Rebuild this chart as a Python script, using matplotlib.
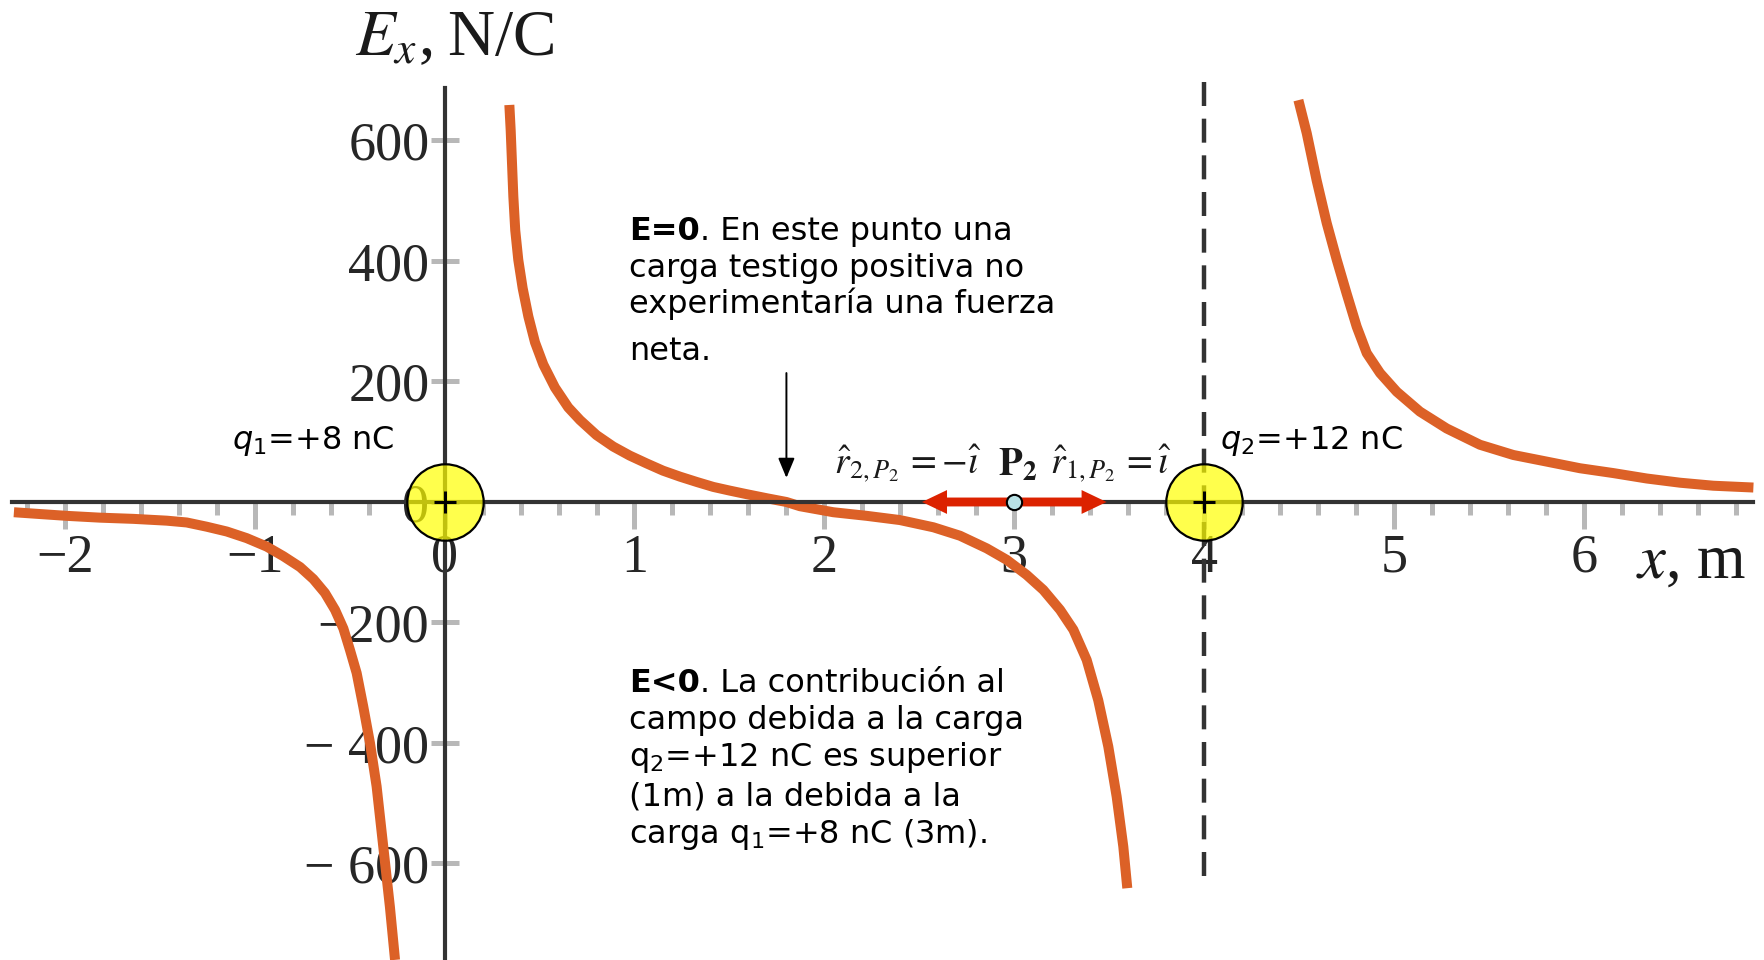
import matplotlib
matplotlib.use("Agg")
import matplotlib.pyplot as plt
from matplotlib.ticker import MultipleLocator
from matplotlib.patches import FancyArrowPatch

plt.rcParams["font.family"] = ["Liberation Serif", "DejaVu Serif"]

# Campo eléctrico E_x (N/C) de q1 = +8 nC en x=0 y q2 = +12 nC en x=4 m
# rama x < 0
x_izq = [-2.268, -2.131, -1.990, -1.815, -1.639, -1.463, -1.358, -1.253, -1.147,
         -1.042, -0.937, -0.849, -0.761, -0.691, -0.630, -0.577, -0.533, -0.498,
         -0.463, -0.428, -0.393, -0.358, -0.323, -0.288, -0.261]
e_izq = [-17, -20, -23, -26, -28, -31, -34, -41, -49, -60, -74, -90, -108, -128,
         -151, -179, -210, -246, -284, -340, -400, -472, -572, -672, -760]

# rama 0 < x < 4
x_med = [0.341, 0.348, 0.355, 0.362, 0.372, 0.388, 0.411, 0.441, 0.476, 0.520,
         0.581, 0.651, 0.713, 0.800, 0.888, 0.975, 1.064, 1.150, 1.240, 1.330,
         1.415, 1.500, 1.590, 1.700, 1.800, 1.871, 2.047, 2.223, 2.398, 2.574,
         2.714, 2.855, 2.960, 3.065, 3.153, 3.241, 3.311, 3.381, 3.442, 3.495,
         3.539, 3.574, 3.595]
e_med = [659, 617, 562, 507, 451, 402, 355, 308, 265, 228, 190, 157, 136, 111,
         92, 77, 64, 52, 42, 33, 25, 19, 13, 6, 0, -7, -17, -23, -30, -42, -56,
         -77, -96, -121, -146, -179, -212, -262, -329, -406, -489, -572, -641]

# rama x > 4
x_der = [4.496, 4.540, 4.592, 4.645, 4.698, 4.750, 4.803, 4.856, 4.926, 5.014,
         5.136, 5.277, 5.452, 5.628, 5.804, 5.979, 6.154, 6.330, 6.506, 6.681,
         6.892]
e_der = [667, 612, 534, 463, 402, 346, 291, 247, 214, 183, 150, 122, 95, 78, 67,
         56, 48, 39, 32, 27, 24]

# cargas y punto P2
cargas_x = [0, 4]
cargas_txt = [r"$q_{\mathit{1}}$=+8 nC", r"$q_{\mathit{2}}$=+12 nC"]
p2_x = 3.0
vec_largo = 0.5
x_cero = 1.80

x_ticks = [-2, -1, 0, 1, 2, 3, 4, 5, 6]
x_tick_labels = ["\u22122", "\u22121", "0", "1", "2", "3", "4", "5", "6"]
y_ticks = [-600, -400, -200, 0, 200, 400, 600]
y_tick_labels = ["\u2212 600", "\u2212 400", "\u2212200", "0", "200", "400", "600"]

# (parte en negrita, resto de la línea)
texto_e0 = [("E=0", ". En este punto una"),
            ("", "carga testigo positiva no"),
            ("", "experimentaría una fuerza"),
            ("", "neta.")]
texto_eneg = [("E<0", ". La contribución al"),
              ("", "campo debida a la carga"),
              ("", r"$\mathrm{q_2}$=+12 nC es superior"),
              ("", "(1m) a la debida a la"),
              ("", r"carga $\mathrm{q_1}$=+8 nC (3m).")]

NARANJA = "#dc6127"
EJE = "#333333"
GRIS = "#b8b8b8"
ROJO = "#dc2200"

fig = plt.figure(figsize=(17.65, 9.6), dpi=100)
ax = fig.add_axes([0, 0, 1, 1])
ax.set_xlim(-2.3412, 6.9531)
ax.set_ylim(-760.2, 833.2)

for lado in ("top", "right"):
    ax.spines[lado].set_visible(False)
ax.spines["left"].set_position(("data", 0))
ax.spines["bottom"].set_position(("data", 0))
ax.spines["bottom"].set_bounds(-2.28, 6.89)
ax.spines["left"].set_bounds(-760, 687)
for lado in ("left", "bottom"):
    ax.spines[lado].set_color(EJE)
    ax.spines[lado].set_linewidth(3.0)

ax.set_xticks(x_ticks, x_tick_labels)
ax.set_yticks(y_ticks, y_tick_labels)
ax.xaxis.set_minor_locator(MultipleLocator(0.2))
ax.tick_params(axis="x", which="major", direction="out", length=19.5, width=3.6,
               color=GRIS, labelsize=39, labelcolor="#262626", pad=3)
ax.tick_params(axis="x", which="minor", direction="out", length=9.5, width=3.6,
               color=GRIS)
ax.tick_params(axis="y", which="major", direction="inout", length=20, width=3.6,
               color=GRIS, labelsize=39, labelcolor="#262626", pad=1)

# curvas del campo
for xs, es in ((x_izq, e_izq), (x_med, e_med), (x_der, e_der)):
    ax.plot(xs, es, color=NARANJA, lw=7.2, solid_capstyle="butt", zorder=2)

# asíntota en la posición de q2
ax.plot([cargas_x[1], cargas_x[1]], [697, -621], color=EJE, lw=3.2,
        dashes=(5.4, 2.85), zorder=4)

# cargas
ax.scatter(cargas_x, [0, 0], s=55 ** 2, facecolors=[(1, 1, 0.0, 0.7)],
           edgecolors="black", linewidths=1.6, zorder=5)
ax.scatter(cargas_x, [0, 0], marker="+", s=16 ** 2, c="black", linewidths=2.2,
           zorder=6)

sans = dict(family="DejaVu Sans", math_fontfamily="dejavusans", fontsize=23,
            color="black")
ax.text(-0.265, 88, cargas_txt[0], ha="right", va="baseline", **sans)
ax.text(4.083, 88, cargas_txt[1], ha="left", va="baseline", **sans)

# vectores unitarios en P2
for dx in (-vec_largo, vec_largo):
    ax.add_patch(FancyArrowPatch((p2_x, 0), (p2_x + dx * 0.972, 0),
                                 arrowstyle="simple,head_length=0.9,head_width=0.86,tail_width=0.32",
                                 mutation_scale=20, color=ROJO, lw=0,
                                 shrinkA=0, shrinkB=0, zorder=6))
ax.scatter([p2_x], [0], s=11 ** 2, facecolors="#b9e2e6", edgecolors="black",
           linewidths=1.5, zorder=7)

serif_math = dict(family="Liberation Serif", math_fontfamily="stix", color="#1a1a1a")
ax.text(p2_x + 0.02, 45, r"$\mathbf{P_2}$", ha="center", va="baseline",
        fontsize=28, **serif_math)
ax.text(2.83, 48, r"$\hat{r}_{2,P_2}\,= -\hat{\imath}$", ha="right",
        va="baseline", fontsize=27, **serif_math)
ax.text(3.188, 48, r"$\hat{r}_{1,P_2}\,= \hat{\imath}$", ha="left",
        va="baseline", fontsize=27, **serif_math)

# títulos de los ejes
ax.text(-0.472, 742, r"$E_x$,$\;$N/C", ha="left", va="baseline", fontsize=47,
        **serif_math)
ax.text(6.274, -126, r"$x$, m", ha="left", va="baseline", fontsize=45,
        **serif_math)

# punto de campo nulo
ax.annotate("", xy=(x_cero, 40), xytext=(x_cero, 214),
            arrowprops=dict(arrowstyle="-|>,head_length=0.6,head_width=0.25",
                            color="black", lw=1.4, mutation_scale=20,
                            shrinkA=0, shrinkB=0))


def bloque(lineas, bases):
    for (negrita, resto), yb in zip(lineas, bases):
        if negrita:
            t = ax.text(0.9726, yb, negrita, ha="left", va="baseline",
                        fontweight="bold", **sans)
            ax.annotate(resto, xy=(1, 0), xycoords=t, ha="left", va="bottom",
                        **sans)
        else:
            ax.text(0.9726, yb, resto, ha="left", va="baseline", **sans)


bloque(texto_e0, [435, 374, 314, 236])
bloque(texto_eneg, [-315, -376, -439, -503, -566])

fig.savefig("out.png", dpi=100)
